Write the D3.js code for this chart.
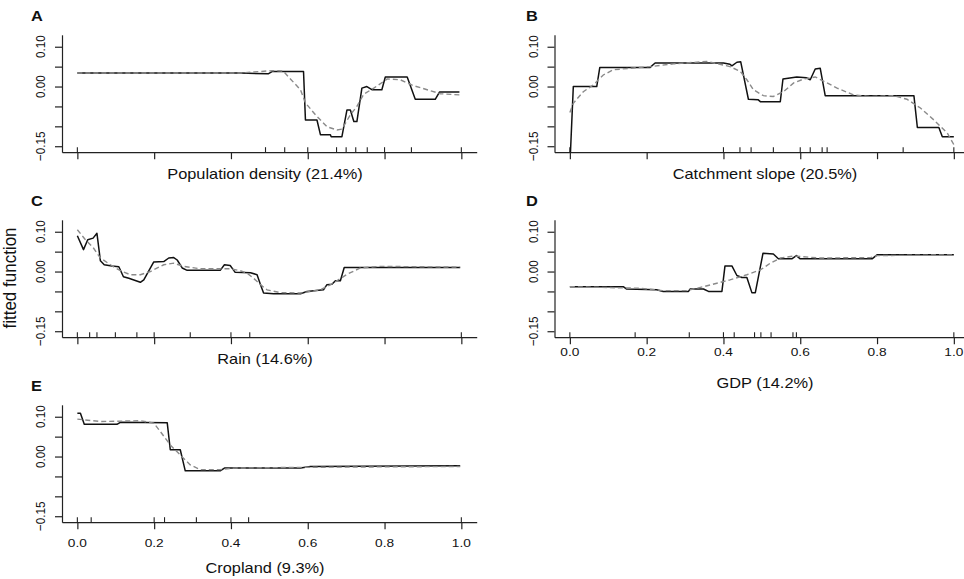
<!DOCTYPE html>
<html>
<head>
<meta charset="utf-8">
<script src="https://cdn.jsdelivr.net/npm/d3@7"></script>
<style>
  body { margin: 0; background: #fff; }
  text { font-family: "Liberation Sans", Arial, sans-serif; fill: #111; }
</style>
</head>
<body>
<svg id="chart" width="964" height="579"></svg>
<script>
// shared tick values
const yTicks = [-0.15, -0.10, -0.05, 0.00, 0.05, 0.10];
const yTickLabels = [[0.10, "0.10"], [0.00, "0.00"], [-0.15, "\u22120.15"]];
const xTicks = [0, 0.2, 0.4, 0.6, 0.8, 1.0];
const xTickLabels = ["0.0", "0.2", "0.4", "0.6", "0.8", "1.0"];

// A: population density  [x, fitted]
const popSolid = [[0,0.034],[0.424,0.034],[0.497,0.032],[0.508,0.038],[0.589,0.038],[0.594,-0.084],[0.624,-0.084],
  [0.633,-0.121],[0.659,-0.121],[0.661,-0.126],[0.689,-0.126],[0.702,-0.059],[0.711,-0.059],[0.720,-0.088],[0.728,-0.088],
  [0.741,-0.004],[0.754,0.000],[0.767,-0.008],[0.793,-0.008],[0.802,0.024],[0.859,0.024],[0.880,-0.032],[0.932,-0.032],
  [0.943,-0.014],[0.995,-0.014]];
const popDashed = [[0,0.034],[0.424,0.034],[0.508,0.040],[0.536,0.039],[0.549,0.025],[0.581,-0.008],[0.594,-0.041],
  [0.620,-0.071],[0.650,-0.101],[0.676,-0.109],[0.689,-0.107],[0.711,-0.071],[0.728,-0.050],[0.746,-0.019],[0.772,-0.004],
  [0.807,0.019],[0.841,0.017],[0.876,0.002],[0.911,-0.008],[0.945,-0.018],[0.995,-0.021]];
const popRug = [0, 0.49, 0.54, 0.60, 0.675, 0.70, 0.725, 0.755, 0.80, 0.87, 1.0];

// B: catchment slope
const slopeSolid = [[0,-0.20],[0.009,0.000],[0.070,0.000],[0.078,0.048],[0.209,0.048],[0.222,0.059],[0.400,0.059],
  [0.417,0.056],[0.422,0.052],[0.435,0.061],[0.445,0.062],[0.465,-0.032],[0.490,-0.033],[0.496,-0.038],[0.548,-0.038],
  [0.555,0.019],[0.591,0.024],[0.616,0.022],[0.626,0.017],[0.639,0.044],[0.652,0.046],[0.665,-0.023],[0.896,-0.023],
  [0.905,-0.103],[0.961,-0.103],[0.970,-0.126],[1.0,-0.126]];
const slopeDashed = [[0,-0.065],[0.009,-0.042],[0.035,-0.013],[0.061,0.004],[0.087,0.029],[0.113,0.042],[0.157,0.046],
  [0.209,0.050],[0.270,0.057],[0.357,0.063],[0.391,0.056],[0.417,0.050],[0.444,0.038],[0.461,0.017],[0.478,-0.008],
  [0.504,-0.023],[0.530,-0.025],[0.556,-0.013],[0.583,0.009],[0.609,0.019],[0.639,0.024],[0.670,0.009],[0.696,-0.004],
  [0.739,-0.021],[0.783,-0.025],[0.843,-0.023],[0.878,-0.032],[0.913,-0.054],[0.948,-0.084],[0.983,-0.117],[1.0,-0.146]];
const slopeRug = [0, 0.40, 0.443, 0.472, 0.53, 0.60, 0.626, 0.657, 0.67, 0.868, 1.0];

// C: rain
const rainSolid = [[0,0.090],[0.016,0.055],[0.027,0.080],[0.041,0.084],[0.051,0.096],[0.060,0.027],[0.070,0.017],
  [0.090,0.014],[0.108,0.012],[0.120,-0.013],[0.134,-0.017],[0.164,-0.027],[0.173,-0.021],[0.199,0.024],[0.225,0.025],
  [0.238,0.034],[0.251,0.035],[0.260,0.029],[0.273,0.009],[0.286,0.003],[0.372,0.003],[0.383,0.017],[0.398,0.015],
  [0.411,-0.002],[0.451,-0.003],[0.468,-0.008],[0.477,-0.033],[0.485,-0.054],[0.511,-0.056],[0.581,-0.056],[0.598,-0.050],
  [0.641,-0.046],[0.650,-0.033],[0.663,-0.032],[0.672,-0.023],[0.685,-0.023],[0.695,0.010],[0.997,0.010]];
const rainDashed = [[0,0.105],[0.021,0.080],[0.042,0.059],[0.060,0.034],[0.086,0.017],[0.112,0.002],[0.138,-0.008],
  [0.164,-0.008],[0.190,0.000],[0.225,0.017],[0.251,0.021],[0.277,0.013],[0.320,0.007],[0.398,0.007],[0.424,0.002],
  [0.442,-0.004],[0.459,-0.017],[0.477,-0.033],[0.494,-0.046],[0.529,-0.053],[0.581,-0.054],[0.633,-0.046],[0.667,-0.029],
  [0.702,-0.007],[0.737,0.009],[0.789,0.013],[0.997,0.011]];
const rainRug = [0, 0.032, 0.051, 0.099, 0.155, 0.20, 0.294, 0.40, 0.449, 1.0];

// D: GDP
const gdpSolid = [[0,-0.038],[0.139,-0.038],[0.148,-0.044],[0.226,-0.046],[0.243,-0.050],[0.309,-0.050],[0.313,-0.044],
  [0.348,-0.044],[0.361,-0.050],[0.396,-0.050],[0.404,0.014],[0.422,0.014],[0.435,-0.010],[0.448,-0.015],[0.461,-0.015],
  [0.474,-0.053],[0.483,-0.053],[0.503,0.046],[0.530,0.044],[0.543,0.032],[0.578,0.032],[0.590,0.040],[0.600,0.032],
  [0.787,0.032],[0.800,0.042],[1.0,0.042]];
const gdpDashed = [[0,-0.038],[0.183,-0.042],[0.243,-0.048],[0.304,-0.048],[0.348,-0.038],[0.400,-0.025],[0.417,-0.021],
  [0.461,-0.008],[0.496,0.004],[0.522,0.021],[0.548,0.034],[0.583,0.039],[0.652,0.034],[0.783,0.035],[0.800,0.040],[1.0,0.042]];
const gdpRug = [0, 0.17, 0.311, 0.40, 0.428, 0.481, 0.4975, 0.524, 0.581, 0.59, 1.0];

// E: cropland
const cropSolid = [[0,0.109],[0.008,0.109],[0.018,0.081],[0.103,0.081],[0.112,0.086],[0.234,0.085],[0.242,0.017],
  [0.268,0.017],[0.281,-0.036],[0.372,-0.036],[0.383,-0.029],[0.581,-0.029],[0.607,-0.025],[0.997,-0.023]];
const cropDashed = [[0,0.094],[0.060,0.088],[0.164,0.090],[0.199,0.084],[0.216,0.063],[0.242,0.029],[0.268,0.004],
  [0.294,-0.021],[0.320,-0.033],[0.372,-0.033],[0.407,-0.029],[0.598,-0.027],[0.997,-0.025]];
const cropRug = [0, 0.036, 0.20, 0.227, 0.31, 0.40, 0.446, 1.0];

const panels = [
  {id: "A", title: "Population density (21.4%)", col: 0, row: 0, solid: popSolid, dashed: popDashed, rug: popRug, labels: false},
  {id: "B", title: "Catchment slope (20.5%)", col: 1, row: 0, solid: slopeSolid, dashed: slopeDashed, rug: slopeRug, labels: false},
  {id: "C", title: "Rain (14.6%)", col: 0, row: 1, solid: rainSolid, dashed: rainDashed, rug: rainRug, labels: false},
  {id: "D", title: "GDP (14.2%)", col: 1, row: 1, solid: gdpSolid, dashed: gdpDashed, rug: gdpRug, labels: true, tickGap: 19},
  {id: "E", title: "Cropland (9.3%)", col: 0, row: 2, solid: cropSolid, dashed: cropDashed, rug: cropRug, labels: true, tickGap: 25}
];

// layout
const colLeft = [62, 554.5];
const titleCenter = [265, 765];
const letterX = [31, 526];
const rowTop = [34.8, 219.8, 404.8];
const plotW = 414.7, plotH = 117.4;
const stretch = 1.17;   // the source is a little wider than tall

const svg = d3.select("#chart");

panels.forEach((p, i) => {
  const left = colLeft[p.col];
  const top = rowTop[p.row];
  const bottom = top + plotH;

  const x = d3.scaleLinear().domain([-0.04, 1.04]).range([left, left + plotW]);
  const y = d3.scaleLinear().domain([-0.165, 0.13]).range([bottom, top]);

  const g = svg.append("g");

  g.append("clipPath").attr("id", "clip" + i)
    .append("rect")
      .attr("x", left).attr("y", top)
      .attr("width", plotW).attr("height", plotH);

  // axes
  const yAxis = d3.axisLeft(y).tickValues(yTicks).tickSize(7).tickSizeOuter(0).tickFormat("");
  const xAxis = d3.axisBottom(x).tickValues(xTicks).tickSize(7).tickSizeOuter(0).tickFormat("");

  g.append("g").attr("transform", `translate(${left},0)`).call(yAxis)
    .attr("color", "#222").selectAll("path,line").attr("stroke-width", 1.2);
  g.append("g").attr("transform", `translate(0,${bottom})`).call(xAxis)
    .attr("color", "#222").selectAll("path,line").attr("stroke-width", 1.2);

  // rug of deciles
  g.selectAll(".rug").data(p.rug).join("line")
    .attr("class", "rug")
    .attr("x1", d => x(d)).attr("x2", d => x(d))
    .attr("y1", bottom).attr("y2", bottom - 5)
    .attr("stroke", "#222").attr("stroke-width", 1.1);

  // y tick labels, parallel to the axis
  g.selectAll(".ylab").data(yTickLabels).join("text")
    .attr("class", "ylab")
    .attr("transform", d => `translate(${left - 17},${y(d[0])}) scale(${stretch},1) rotate(-90)`)
    .attr("text-anchor", "middle")
    .style("font-size", "11.7px")
    .text(d => d[1]);

  if (p.labels) {
    g.selectAll(".xlab").data(xTicks).join("text")
      .attr("class", "xlab")
      .attr("transform", d => `translate(${x(d)},${bottom + p.tickGap}) scale(${stretch},1)`)
      .attr("text-anchor", "middle")
      .style("font-size", "11.7px")
      .text((d, j) => xTickLabels[j]);
  }

  // axis title
  const titleY = p.labels ? bottom + 51 : bottom + 27;
  g.append("text")
    .attr("transform", `translate(${titleCenter[p.col]},${titleY}) scale(${stretch},1)`)
    .attr("text-anchor", "middle")
    .style("font-size", "14px")
    .text(p.title);

  // panel letter
  g.append("text")
    .attr("transform", `translate(${letterX[p.col]},${top - 14}) scale(${stretch},1)`)
    .style("font-size", "14px")
    .style("font-weight", "bold")
    .text(p.id);

  // curves
  const line = d3.line().x(d => x(d[0])).y(d => y(d[1]));
  const plot = g.append("g").attr("clip-path", `url(#clip${i})`);

  plot.append("path").datum(p.solid)
    .attr("d", line)
    .attr("fill", "none")
    .attr("stroke", "#111")
    .attr("stroke-width", 1.5)
    .attr("stroke-linejoin", "round");

  plot.append("path").datum(p.dashed)
    .attr("d", line)
    .attr("fill", "none")
    .attr("stroke", "#8a8a8a")
    .attr("stroke-width", 1.4)
    .attr("stroke-dasharray", "5,3");
});

// shared y title
svg.append("text")
  .attr("transform", `translate(16,278) scale(1.1,1) rotate(-90)`)
  .attr("text-anchor", "middle")
  .style("font-size", "17px")
  .text("fitted function");
</script>
</body>
</html>
